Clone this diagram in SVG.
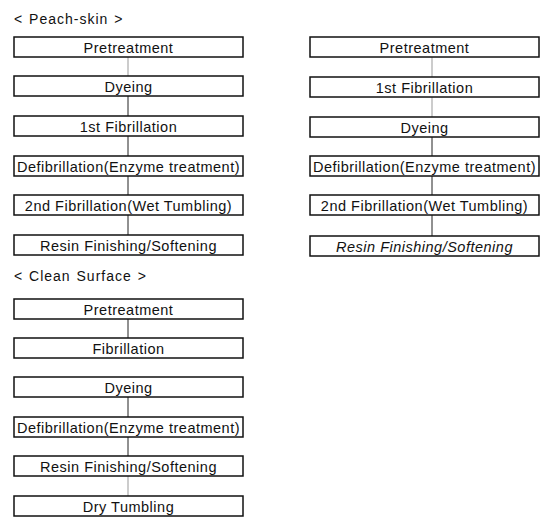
<svg xmlns="http://www.w3.org/2000/svg" width="545" height="521" viewBox="0 0 545 521">
<style>
.b{fill:#fff;stroke:#111;stroke-width:1.5}
.t{font-family:"Liberation Sans",Arial,sans-serif;font-size:14.5px;letter-spacing:0.5px;fill:#111;text-anchor:middle}
.h{font-family:"Liberation Sans",Arial,sans-serif;font-size:14px;letter-spacing:1px;word-spacing:1px;fill:#111}
.i{font-style:italic}
.c{stroke:#222;stroke-width:1;fill:none}
.f{stroke:#999;stroke-width:1;fill:none}
</style>
<rect width="545" height="521" fill="#fff"/>
<text class="h" x="14" y="24">&lt; Peach-skin &gt;</text>
<text class="h" x="14" y="281">&lt; Clean Surface &gt;</text>
<g id="connectors">
<line class="f" x1="128" y1="57" x2="128" y2="76"/>
<line class="c" x1="128" y1="96" x2="128" y2="116"/>
<line class="c" x1="128" y1="136" x2="128" y2="156"/>
<line class="c" x1="128" y1="176" x2="128" y2="195"/>
<line class="c" x1="128" y1="215" x2="128" y2="235"/>
<line class="f" x1="432" y1="57" x2="432" y2="77"/>
<line class="f" x1="432" y1="97" x2="432" y2="117"/>
<line class="c" x1="432" y1="137" x2="432" y2="156"/>
<line class="c" x1="432" y1="176" x2="432" y2="195"/>
<line class="c" x1="432" y1="215" x2="432" y2="236"/>
<line class="c" x1="128" y1="319" x2="128" y2="338"/>
<line class="c" x1="128" y1="397" x2="128" y2="417"/>
<line class="c" x1="128" y1="437" x2="128" y2="456"/>
<line class="f" x1="128" y1="476" x2="128" y2="496"/>
</g>
<g id="p1"><rect class="b" x="14" y="37" width="229" height="20"/><text class="t" x="128.5" y="52.5">Pretreatment</text></g>
<g id="p2"><rect class="b" x="14" y="76" width="229" height="20"/><text class="t" x="128.5" y="91.5">Dyeing</text></g>
<g id="p3"><rect class="b" x="14" y="116" width="229" height="20"/><text class="t" x="128.5" y="131.5">1st Fibrillation</text></g>
<g id="p4"><rect class="b" x="14" y="156" width="229" height="20"/><text class="t" x="128.5" y="171.5">Defibrillation(Enzyme treatment)</text></g>
<g id="p5"><rect class="b" x="14" y="195" width="229" height="20"/><text class="t" x="128.5" y="210.5">2nd Fibrillation(Wet Tumbling)</text></g>
<g id="p6"><rect class="b" x="14" y="235" width="229" height="20"/><text class="t" x="128.5" y="250.5">Resin Finishing/Softening</text></g>
<g id="r1"><rect class="b" x="310" y="37" width="229" height="20"/><text class="t" x="424.5" y="52.5">Pretreatment</text></g>
<g id="r2"><rect class="b" x="310" y="77" width="229" height="20"/><text class="t" x="424.5" y="92.5">1st Fibrillation</text></g>
<g id="r3"><rect class="b" x="310" y="117" width="229" height="20"/><text class="t" x="424.5" y="132.5">Dyeing</text></g>
<g id="r4"><rect class="b" x="310" y="156" width="229" height="20"/><text class="t" x="424.5" y="171.5">Defibrillation(Enzyme treatment)</text></g>
<g id="r5"><rect class="b" x="310" y="195" width="229" height="20"/><text class="t" x="424.5" y="210.5">2nd Fibrillation(Wet Tumbling)</text></g>
<g id="r6"><rect class="b" x="310" y="236" width="229" height="20"/><text class="t i" x="424.5" y="251.5">Resin Finishing/Softening</text></g>
<g id="c1"><rect class="b" x="14" y="299" width="229" height="20"/><text class="t" x="128.5" y="314.5">Pretreatment</text></g>
<g id="c2"><rect class="b" x="14" y="338" width="229" height="20"/><text class="t" x="128.5" y="353.5">Fibrillation</text></g>
<g id="c3"><rect class="b" x="14" y="377" width="229" height="20"/><text class="t" x="128.5" y="392.5">Dyeing</text></g>
<g id="c4"><rect class="b" x="14" y="417" width="229" height="20"/><text class="t" x="128.5" y="432.5">Defibrillation(Enzyme treatment)</text></g>
<g id="c5"><rect class="b" x="14" y="456" width="229" height="20"/><text class="t" x="128.5" y="471.5">Resin Finishing/Softening</text></g>
<g id="c6"><rect class="b" x="14" y="496" width="229" height="20"/><text class="t" x="128.5" y="511.5">Dry Tumbling</text></g>
</svg>
